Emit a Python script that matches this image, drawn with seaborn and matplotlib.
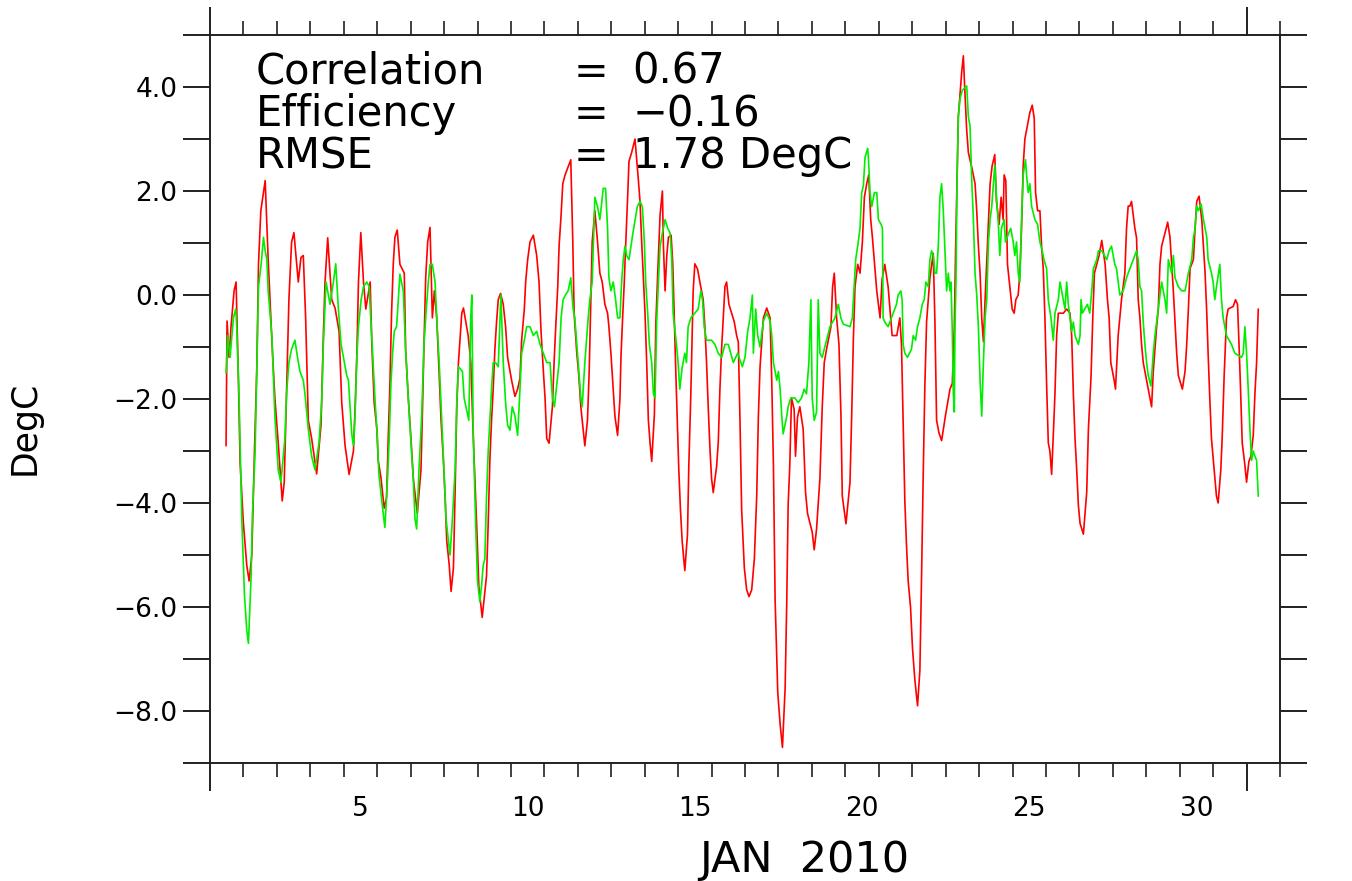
import matplotlib
matplotlib.use("Agg")
import matplotlib.pyplot as plt
import pandas as pd
import seaborn as sns

# ---------------- data (day = days since 1 Jan 2010 00:00, value in DegC) ----------------
red_series = [
    (0.48,-2.9),(0.51,-0.5),(0.57,-1.2),(0.63,-0.6),(0.72,0.08),(0.78,0.25),(0.85,-1.64),(0.90,-3.23),(1.00,-4.4),(1.10,-5.2),
    (1.17,-5.5),(1.25,-5.0),(1.33,-3.0),(1.40,-1.4),(1.45,0.59),(1.52,1.62),(1.65,2.2),(1.74,0.68),(1.85,-0.87),(1.94,-1.98),
    (2.04,-2.84),(2.16,-3.96),(2.22,-3.6),(2.29,-1.81),(2.36,-0.09),(2.44,1.02),(2.51,1.2),(2.64,0.25),(2.72,0.72),(2.79,0.76),
    (2.86,-0.44),(2.94,-2.41),(3.04,-2.76),(3.19,-3.44),(3.32,-2.5),(3.39,-0.78),(3.44,0.25),(3.52,1.1),(3.64,-0.09),(3.74,-0.25),
    (3.86,-0.7),(3.94,-2.07),(4.04,-2.9),
    (4.16,-3.45),(4.29,-3.0),(4.34,-2.15),(4.39,-1.2),(4.44,0.25),(4.51,1.2),(4.59,0.25),(4.66,-0.27),(4.79,0.25),(4.84,-0.95),
    (4.91,-2.07),(4.99,-2.58),(5.03,-3.18),(5.11,-3.5),(5.21,-4.1),(5.28,-3.9),(5.33,-2.76),(5.38,-1.72),(5.43,-0.35),(5.48,0.59),
    (5.53,1.11),(5.60,1.25),(5.68,0.59),(5.81,0.42),(5.85,-1.04),(5.93,-1.98),(6.01,-2.76),(6.08,-3.53),(6.20,-4.2),(6.31,-3.36),
    (6.35,-2.33),(6.40,-0.95),(6.45,0.33),(6.51,1.02),(6.58,1.3),(6.65,-0.44),(6.71,0.08),(6.78,-0.44),(6.85,-1.47),(6.91,-2.41),
    (6.98,-3.18),(7.03,-3.87),(7.08,-4.73),(7.15,-5.16),(7.21,-5.7),(7.28,-5.25),(7.33,-3.79),(7.38,-2.15),(7.43,-1.3),(7.53,-0.35),
    (7.58,-0.25),(7.72,-0.78),(7.80,-1.3),(7.87,-2.67),(7.98,-4.5),(8.04,-5.6),
    (8.14,-6.2),(8.27,-5.4),(8.32,-4.4),(8.37,-3.18),(8.42,-2.41),(8.47,-1.81),(8.52,-1.04),(8.57,-0.52),(8.62,-0.09),(8.69,0.03),
    (8.77,-0.18),(8.84,-0.61),(8.90,-1.2),(9.02,-1.64),(9.12,-1.95),(9.20,-1.81),(9.27,-1.6),(9.32,-0.87),(9.40,-0.27),(9.44,0.25),
    (9.50,0.68),(9.57,1.02),(9.67,1.15),(9.77,0.76),(9.84,0.25),(9.90,-0.7),(9.97,-1.47),(10.02,-1.98),(10.07,-2.76),(10.14,-2.85),
    (10.24,-2.15),(10.29,-1.3),(10.34,-0.61),(10.40,0.16),(10.44,0.94),(10.50,1.54),(10.55,2.14),(10.62,2.31),(10.72,2.48),(10.79,2.6),
    (10.85,1.02),(10.89,-0.35),(10.97,-1.12),(11.03,-1.55),(11.09,-2.15),(11.16,-2.58),(11.21,-2.9),(11.29,-2.4),(11.34,-1.47),(11.39,-0.09),
    (11.43,1.02),(11.51,1.62),(11.59,1.02),(11.66,0.42),(11.73,0.25),(11.81,-0.18),(11.89,-0.35),
    (11.93,-0.61),(11.99,-1.12),(12.06,-1.81),(12.11,-2.33),(12.19,-2.7),(12.26,-2.0),(12.29,-1.2),(12.34,-0.44),(12.39,0.25),(12.43,0.94),
    (12.49,1.88),(12.53,2.57),(12.61,2.74),(12.71,3.0),(12.81,2.22),(12.86,1.8),(12.91,1.02),(12.96,0.33),(13.01,-0.35),(13.06,-1.3),
    (13.11,-2.41),(13.16,-2.84),(13.21,-3.2),(13.29,-2.3),(13.33,-0.61),(13.39,0.42),(13.46,1.54),(13.53,2.0),(13.56,0.94),(13.61,0.08),
    (13.66,0.75),(13.71,1.11),(13.79,1.15),(13.84,0.6),(13.88,-0.35),(13.93,-1.47),(13.99,-2.76),(14.02,-3.36),(14.07,-4.13),(14.12,-4.73),
    (14.20,-5.3),(14.28,-4.6),(14.32,-3.27),(14.38,-1.9),(14.42,-0.78),(14.45,0.08),(14.50,0.6),(14.58,0.5),(14.65,0.25),(14.75,-0.09),
    (14.80,-0.61),(14.85,-1.3),(14.90,-2.15),(14.95,-2.93),(15.00,-3.53),(15.05,-3.8),(15.15,-3.3),(15.20,-2.84),(15.25,-1.81),(15.30,-1.04),
    (15.35,-0.44),(15.40,0.16),(15.45,0.25),(15.52,-0.18),(15.60,-0.35),(15.68,-0.52),(15.75,-0.78),(15.80,-0.9),
    (15.85,-2.41),(15.90,-4.13),(15.98,-5.25),(16.05,-5.67),(16.12,-5.8),(16.20,-5.67),(16.28,-5.07),(16.35,-3.87),(16.40,-2.33),(16.45,-1.38),
    (16.55,-0.44),(16.65,-0.25),(16.75,-0.44),(16.80,-1.64),(16.85,-3.27),(16.90,-5.85),(16.98,-7.65),(17.05,-8.25),(17.12,-8.7),(17.20,-7.56),
    (17.25,-5.85),(17.29,-4.04),(17.34,-3.27),(17.39,-1.98),(17.47,-2.2),(17.51,-3.1),(17.57,-2.35),(17.64,-2.15),(17.74,-2.58),(17.81,-3.79),
    (17.87,-4.2),(18.01,-4.56),(18.07,-4.9),(18.14,-4.5),(18.24,-3.53),(18.31,-2.15),(18.37,-1.3),(18.44,-1.04),(18.57,-0.61),(18.62,0.16),
    (18.67,0.42),(18.74,-0.44),(18.81,-0.95),(18.87,-2.33),(18.91,-3.87),(19.02,-4.4),(19.14,-3.6),(19.19,-2.33),(19.24,-0.87),(19.29,0.16),
    (19.37,0.59),(19.44,0.42),(19.51,1.02),(19.57,1.88),(19.64,2.14),(19.70,2.31),
    (19.76,1.45),(19.81,1.11),(19.94,0.08),(20.04,-0.44),(20.10,0.3),(20.18,0.59),(20.28,0.16),(20.40,-0.78),(20.54,-0.78),(20.63,-0.44),
    (20.68,-0.95),(20.73,-2.5),(20.78,-3.96),(20.83,-4.82),(20.88,-5.5),(20.95,-6.0),(21.01,-6.8),(21.08,-7.4),(21.16,-7.9),(21.23,-7.22),
    (21.28,-5.42),(21.33,-3.44),(21.38,-1.72),(21.43,-0.52),(21.53,0.33),(21.63,0.8),(21.68,-0.52),(21.73,-2.41),(21.80,-2.65),(21.88,-2.8),
    (22.00,-2.3),(22.13,-1.81),(22.20,-1.7),(22.26,-0.61),(22.30,0.94),(22.34,2.22),(22.38,3.43),(22.43,3.85),(22.48,4.28),(22.53,4.6),
    (22.58,3.85),(22.63,3.17),(22.68,2.74),(22.80,2.4),(22.88,2.14),(22.93,1.62),(22.98,0.94),(23.03,0.42),(23.08,-0.44),(23.13,-0.9),
    (23.18,-0.09),(23.26,1.11),(23.33,2.14),(23.39,2.48),(23.47,2.7),(23.52,1.8),
    (23.60,1.36),(23.66,1.88),(23.72,1.45),(23.75,2.31),(23.80,2.2),(23.85,0.59),(23.92,0.16),(23.99,-0.27),(24.05,-0.35),(24.10,-0.09),
    (24.17,0.0),(24.22,0.42),(24.27,1.28),(24.32,2.48),(24.37,3.0),(24.47,3.34),(24.52,3.51),(24.59,3.65),(24.65,3.4),(24.69,1.97),
    (24.75,1.62),(24.82,1.62),(24.87,0.94),(24.92,0.51),(24.97,-0.44),(25.02,-1.72),(25.07,-2.84),(25.12,-3.01),(25.17,-3.45),(25.22,-2.7),
    (25.27,-1.9),(25.32,-0.78),(25.37,-0.35),(25.52,-0.35),(25.62,-0.27),(25.72,-0.35),(25.77,-0.78),(25.82,-1.9),(25.87,-2.76),(25.92,-3.36),
    (25.97,-4.04),(26.02,-4.39),(26.12,-4.6),(26.22,-3.79),(26.27,-2.58),(26.35,-1.55),(26.40,-0.44),(26.45,0.42),(26.52,0.59),(26.59,0.76),
    (26.67,1.05),(26.77,0.59),(26.84,-0.09),(26.89,-0.44),(26.94,-1.3),(27.04,-1.64),(27.08,-1.81),(27.16,-0.78),(27.26,-0.09),(27.36,0.42),
    (27.41,1.28),(27.46,1.71),
    (27.51,1.71),(27.56,1.8),(27.66,1.28),(27.71,1.1),(27.76,-0.09),(27.81,-0.44),(27.86,-0.95),(27.91,-1.3),(28.01,-1.64),(28.06,-1.81),
    (28.16,-2.15),(28.21,-1.47),(28.31,-0.61),(28.36,-0.27),(28.41,0.59),(28.46,0.94),(28.56,1.19),(28.64,1.4),(28.71,1.11),(28.76,0.59),
    (28.81,0.08),(28.86,-0.52),(28.91,-1.12),(28.96,-1.55),(29.08,-1.81),(29.16,-1.47),(29.21,-0.95),(29.26,-0.27),(29.31,0.51),(29.41,0.68),
    (29.46,1.28),(29.51,1.8),(29.58,1.9),(29.66,1.45),(29.71,0.94),(29.76,0.42),(29.81,-0.35),(29.85,-1.12),(29.90,-1.98),(29.95,-2.76),
    (30.03,-3.36),(30.10,-3.87),(30.15,-4.0),(30.23,-3.36),(30.27,-2.76),(30.33,-1.55),(30.40,-0.44),(30.45,-0.27),(30.60,-0.22),(30.67,-0.09),
    (30.73,-0.18),(30.77,-0.87),(30.82,-1.81),(30.87,-2.84),(30.95,-3.27),(31.00,-3.6),(31.07,-3.2),(31.13,-3.1),(31.20,-2.7),(31.25,-1.9),
    (31.30,-1.3),(31.35,-0.27),
]

green_series = [
    (0.48,-1.5),(0.53,-0.78),(0.60,-1.2),(0.70,-0.44),(0.77,-0.27),(0.80,-0.61),(0.87,-1.98),(0.95,-4.3),(1.03,-5.76),(1.10,-6.45),
    (1.15,-6.7),(1.23,-5.4),(1.27,-4.2),(1.35,-3.0),(1.40,-1.4),(1.45,0.16),(1.53,0.59),(1.60,1.11),(1.65,0.85),(1.70,0.68),
    (1.74,0.08),(1.85,-0.78),(1.94,-2.33),(2.04,-3.36),(2.12,-3.6),(2.24,-2.76),(2.29,-1.9),(2.36,-1.3),(2.44,-1.04),(2.54,-0.87),
    (2.62,-1.21),(2.69,-1.47),(2.79,-1.64),(2.84,-1.9),(2.94,-2.58),(3.04,-3.1),(3.14,-3.36),(3.26,-2.84),(3.34,-2.07),(3.39,-0.95),
    (3.47,0.25),(3.59,-0.18),(3.69,0.25),(3.76,0.6),(3.84,-0.27),(3.92,-0.95),(4.09,-1.55),
    (4.14,-1.64),(4.19,-2.15),(4.24,-2.67),(4.29,-2.9),(4.34,-2.3),(4.39,-1.2),(4.44,-0.61),(4.52,-0.09),(4.59,0.16),(4.69,0.25),
    (4.76,0.16),(4.82,-0.61),(4.85,-0.95),(4.94,-2.07),(5.00,-2.67),(5.05,-3.44),(5.11,-3.79),(5.18,-4.2),(5.23,-4.47),(5.31,-3.53),
    (5.36,-2.76),(5.41,-1.72),(5.46,-1.12),(5.51,-0.7),(5.58,-0.61),(5.68,0.4),(5.78,0.08),(5.85,-1.04),(5.93,-1.98),(6.01,-2.84),
    (6.08,-3.53),(6.13,-4.3),(6.18,-4.5),(6.25,-3.36),(6.33,-2.33),(6.40,-0.95),(6.46,-0.35),(6.53,0.25),(6.58,0.59),(6.65,0.59),
    (6.73,0.25),(6.78,-0.44),(6.86,-1.38),(6.93,-2.41),(7.00,-3.44),(7.06,-4.3),(7.13,-4.73),(7.18,-5.0),(7.25,-4.3),(7.33,-3.36),
    (7.38,-2.07),(7.43,-1.38),(7.55,-1.47),(7.60,-1.98),(7.74,-2.41),(7.80,-0.4),(7.83,0.0),(7.87,-2.58),(7.94,-4.3),(8.00,-5.5),
    (8.07,-5.9),
    (8.12,-5.6),(8.17,-5.2),(8.22,-5.07),(8.27,-3.87),(8.32,-3.01),(8.42,-1.81),(8.47,-1.3),(8.54,-1.3),(8.62,-1.38),(8.70,0.0),
    (8.77,-1.3),(8.84,-2.07),(8.90,-2.5),(8.97,-2.6),(9.04,-2.15),(9.12,-2.33),(9.20,-2.7),(9.27,-1.81),(9.32,-1.12),(9.40,-0.87),
    (9.47,-0.61),(9.57,-0.61),(9.67,-0.78),(9.77,-0.7),(9.87,-0.95),(9.97,-1.12),(10.07,-1.3),(10.17,-1.3),(10.24,-1.98),(10.30,-2.15),
    (10.37,-1.72),(10.44,-1.3),(10.50,-0.44),(10.56,-0.09),(10.63,0.0),(10.71,0.08),(10.79,0.33),(10.86,-0.27),(10.91,-0.44),(11.01,-1.3),
    (11.09,-1.98),(11.13,-2.15),(11.21,-1.3),(11.31,-0.44),(11.36,-0.09),(11.43,0.25),(11.51,1.88),(11.59,1.7),(11.66,1.45),(11.76,2.05),
    (11.83,2.05),(11.89,1.28),
    (11.93,0.33),(11.99,0.08),(12.06,0.25),(12.13,-0.09),(12.19,-0.44),(12.26,-0.44),(12.31,0.25),(12.36,0.68),(12.41,0.94),(12.46,0.76),
    (12.53,0.68),(12.65,1.2),(12.78,1.7),(12.86,1.8),(12.93,1.7),(12.99,1.02),(13.03,0.25),(13.09,-0.35),(13.14,-0.95),(13.21,-1.3),
    (13.26,-1.9),(13.31,-1.98),(13.36,-0.5),(13.41,0.25),(13.46,0.94),(13.53,1.19),(13.61,1.45),(13.69,1.28),(13.76,1.19),(13.81,0.68),
    (13.85,-0.35),(13.95,-0.95),(14.00,-1.3),(14.05,-1.81),(14.12,-1.4),(14.20,-1.12),(14.25,-1.3),(14.30,-0.61),(14.38,-0.44),(14.50,-0.35),
    (14.60,-0.27),(14.68,0.08),(14.73,-0.1),(14.78,-0.61),(14.85,-0.87),(15.00,-0.87),(15.10,-0.95),(15.20,-1.12),(15.30,-1.2),(15.40,-0.95),
    (15.50,-0.95),(15.65,-1.3),(15.78,-1.12),
    (15.92,-1.38),(16.00,-1.2),(16.08,-0.7),(16.15,-0.44),(16.22,0.0),(16.25,-1.12),(16.32,-0.27),(16.38,-0.78),(16.45,-1.0),(16.55,-0.5),
    (16.65,-0.35),(16.75,-0.5),(16.80,-0.78),(16.85,-1.3),(16.95,-1.64),(17.00,-1.47),(17.05,-1.81),(17.10,-2.33),(17.14,-2.67),(17.25,-2.33),
    (17.29,-2.15),(17.37,-1.98),(17.49,-1.98),(17.59,-2.07),(17.69,-1.98),(17.77,-1.81),(17.84,-1.9),(17.91,-1.3),(17.97,-0.09),(18.01,-1.98),
    (18.07,-2.41),(18.14,-2.25),(18.19,-0.09),(18.24,-1.12),(18.31,-1.2),(18.37,-1.04),(18.44,-0.87),(18.54,-0.61),(18.69,-0.44),(18.79,-0.18),
    (18.87,-0.45),(18.94,-0.56),(19.14,-0.61),(19.21,-0.44),(19.27,0.25),(19.31,0.68),(19.37,0.94),(19.44,1.28),(19.49,1.97),(19.54,2.1),
    (19.59,2.65),(19.67,2.82),
    (19.69,2.65),(19.74,1.97),(19.79,1.7),(19.87,1.97),(19.94,1.97),(19.99,1.45),(20.07,1.36),(20.11,1.28),(20.13,-0.44),(20.18,-0.52),
    (20.28,-0.61),(20.38,-0.44),(20.53,-0.18),(20.58,0.0),(20.66,0.08),(20.70,-0.1),(20.73,-0.95),(20.78,-1.12),(20.86,-1.2),(20.98,-1.04),
    (21.03,-0.78),(21.10,-0.87),(21.16,-0.61),(21.23,-0.44),(21.30,-0.18),(21.36,-0.09),(21.41,0.25),(21.48,0.16),(21.53,0.68),(21.58,0.85),
    (21.63,0.76),(21.68,0.42),(21.73,0.42),(21.78,0.94),(21.83,1.88),(21.88,2.14),(21.93,1.62),(21.98,0.85),(22.03,0.08),(22.08,0.42),
    (22.13,0.08),(22.16,0.25),(22.20,-0.7),(22.23,-1.9),(22.26,-2.25),(22.28,-0.61),(22.31,0.25),(22.34,2.14),(22.38,3.43),(22.43,3.77),
    (22.50,3.94),(22.63,4.02),(22.68,3.43),(22.73,3.25),(22.78,2.22),(22.83,1.45),(22.88,0.42),(22.93,0.0),(22.98,-0.61),(23.03,-1.64),
    (23.08,-2.33),(23.13,-1.3),(23.18,-0.44),(23.23,-0.09),(23.28,1.02),(23.33,1.45),(23.38,1.71),(23.47,2.5),(23.52,1.88),(23.57,1.45),
    (23.62,0.76),(23.67,1.28),(23.75,1.45),(23.79,1.02),(23.89,1.2),(23.95,1.28),(24.02,1.02),(24.07,0.76),(24.12,1.02),(24.17,0.42),
    (24.22,0.25),(24.27,1.45),(24.32,2.31),(24.39,2.6),(24.42,2.31),(24.47,1.97),(24.52,2.14),(24.57,1.71),(24.67,1.45),(24.75,1.36),
    (24.82,1.02),(24.89,0.85),(24.94,0.68),(25.02,0.51),(25.07,-0.09),(25.15,-0.44),(25.22,-0.87),(25.27,-0.35),(25.37,-0.09),(25.42,0.25),
    (25.47,0.08),(25.52,-0.09),(25.57,-0.27),(25.62,0.25),(25.67,-0.18),(25.77,-0.7),(25.82,-0.52),(25.87,-0.78),(25.97,-0.95),(26.02,-0.78),
    (26.05,-0.09),(26.09,-0.35),(26.24,-0.18),(26.31,-0.35),(26.37,0.08),(26.42,0.51),(26.52,0.68),(26.57,0.85),(26.67,0.85),(26.75,0.76),
    (26.82,0.68),(26.89,0.85),(26.96,0.94),(27.01,0.76),(27.06,0.59),(27.11,0.51),(27.16,0.25),(27.21,0.0),(27.31,0.08),(27.41,0.33),
    (27.46,0.42),
    (27.56,0.59),(27.66,0.76),(27.71,0.85),(27.76,0.68),(27.81,0.16),(27.86,0.08),(27.91,-0.52),(27.96,-0.95),(28.01,-1.3),(28.06,-1.55),
    (28.14,-1.75),(28.21,-1.12),(28.26,-0.78),(28.36,-0.27),(28.46,0.25),(28.56,-0.09),(28.61,-0.35),(28.66,0.68),(28.76,0.42),(28.81,0.76),
    (28.86,0.33),(28.96,0.16),(29.06,0.08),(29.16,0.08),(29.26,0.42),(29.36,0.68),(29.41,1.1),(29.46,1.28),(29.51,1.71),(29.56,1.62),
    (29.64,1.75),(29.71,1.45),(29.81,1.11),(29.85,0.68),(29.95,0.42),(30.00,0.25),(30.05,-0.09),(30.10,0.16),(30.20,0.59),(30.25,-0.09),
    (30.30,-0.44),(30.40,-0.78),(30.55,-0.95),(30.65,-1.12),(30.85,-1.2),(30.90,-1.12),(30.95,-0.61),(31.00,-1.12),(31.05,-1.81),(31.10,-2.58),
    (31.15,-3.18),(31.20,-3.0),(31.25,-3.1),(31.30,-3.18),(31.35,-3.87),
]

day_labels = [5, 10, 15, 20, 25, 30]
ytick_values = [-8, -6, -4, -2, 0, 2, 4]
ytick_minor = [-9, -7, -5, -3, -1, 1, 3, 5]
stat_names = ["Correlation", "Efficiency", "RMSE"]
stat_values = ["0.67", "\u22120.16", "1.78 DegC"]
x_label = "JAN  2010"
y_label = "DegC"

# ---------------- figure ----------------
sns.set_style("white")
plt.rcParams["font.family"] = ["DejaVu Sans"]
plt.rcParams["axes.unicode_minus"] = True
for key in ["text.color", "axes.labelcolor", "xtick.color", "ytick.color", "xtick.labelcolor", "ytick.labelcolor"]:
    plt.rcParams[key] = "black"

fig = plt.figure(figsize=(13.52, 8.81), dpi=100)
ax = fig.add_axes([210 / 1352, 118 / 881, 1070 / 1352, 728 / 881])

df_red = pd.DataFrame(red_series, columns=["day", "degc"])
df_green = pd.DataFrame(green_series, columns=["day", "degc"])
sns.lineplot(data=df_red, x="day", y="degc", color="#ff0000", linewidth=1.2,
             estimator=None, sort=False, ax=ax)
sns.lineplot(data=df_green, x="day", y="degc", color="#00ee00", linewidth=1.2,
             estimator=None, sort=False, ax=ax)

ax.set_xlim(0, 32)
ax.set_ylim(-9, 5)

frame_col = "#202020"
for sp in ax.spines.values():
    sp.set_visible(True)
    sp.set_color(frame_col)
    sp.set_linewidth(1.4)

# y ticks (both sides, outward)
ax.set_yticks(ytick_values, labels=[f"{v:.1f}".replace("-", "\u2212") for v in ytick_values])
ax.set_yticks(ytick_minor, minor=True)
ax.tick_params(axis="y", which="both", direction="out", length=19.5, width=1.4,
               left=True, right=True, labelleft=True, labelright=False,
               color=frame_col, labelcolor="black", labelsize=19, pad=4)

# x ticks: month boundaries long, day boundaries short (top and bottom)
ax.set_xticks([0, 31])
ax.set_xticks(list(range(1, 31)) + [32], minor=True)
ax.tick_params(axis="x", which="major", direction="out", length=20, width=1.4,
               top=True, bottom=True, labelbottom=False, color=frame_col)
ax.tick_params(axis="x", which="minor", direction="out", length=10, width=1.2,
               top=True, bottom=True, labelbottom=False, color=frame_col)

# day labels centred on noon of each labelled day
sec = ax.secondary_xaxis("bottom")
sec.set_xticks([d - 0.5 for d in day_labels], labels=[str(d) for d in day_labels])
sec.tick_params(length=0, pad=24, labelsize=19, labelcolor="black")
sec.spines["bottom"].set_visible(False)

ax.set_xlabel(x_label, fontsize=31, color="black")
ax.xaxis.set_label_coords(0.555, -0.105)
ax.set_ylabel(y_label, fontsize=25, color="black")
ax.yaxis.set_label_coords(-0.157, 0.46)

# statistics block
rows_y = [0.933, 0.875, 0.817]
for name, val, yy in zip(stat_names, stat_values, rows_y):
    ax.text(0.043, yy, name, transform=ax.transAxes, fontsize=30, va="baseline", ha="left", color="black")
    ax.text(0.340, yy, "=", transform=ax.transAxes, fontsize=30, va="baseline", ha="left", color="black")
    ax.text(0.395, yy, val, transform=ax.transAxes, fontsize=30, va="baseline", ha="left", color="black")

fig.savefig("out.png", dpi=100, facecolor="white")
